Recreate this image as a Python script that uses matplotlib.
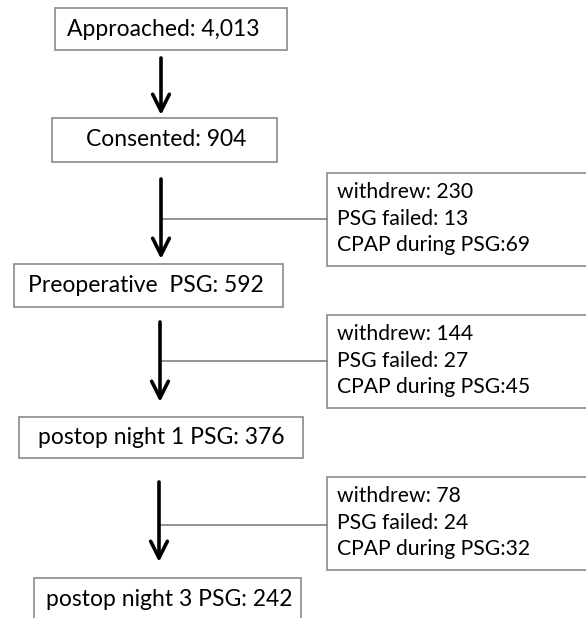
import matplotlib.pyplot as plt
from matplotlib.patches import Rectangle

# flow numbers
stages = ["Approached", "Consented", "Preoperative  PSG", "postop night 1 PSG", "postop night 3 PSG"]
counts = [4013, 904, 592, 376, 242]
withdrew = [230, 144, 78]
psg_failed = [13, 27, 24]
cpap = [69, 45, 32]

W, H = 586, 618
fig = plt.figure(figsize=(W / 100, H / 100), dpi=100)
ax = fig.add_axes([0, 0, 1, 1])
ax.set_xlim(0, W)
ax.set_ylim(H, 0)
ax.axis('off')

plt.rcParams['font.family'] = ['Lato', 'DejaVu Sans']

EDGE = '#8a8a8a'

# main boxes in pixel coords: x0, y0, x1, y1, text left, text y
main_boxes = [
    (55, 8, 287, 50, 67, 29),
    (52, 118, 277, 162, 86, 140),
    (14, 264, 283, 307, 28, 285),
    (19, 417, 303, 458, 38, 437),
    (34, 578, 301, 640, 46, 599),
]
# arrows: x, y top, y tip
arrows = [(161, 58, 115), (161, 179, 259), (160, 322, 402), (159, 482, 562)]
# side boxes: y top, y bottom, branch line y
side_boxes = [(173, 266, 219), (315, 408, 361), (477, 570, 525)]
SIDE_X0 = 327
line_off = [19, 46, 72]

for (x0, y0, x1, y1, tx, ty), name, n in zip(main_boxes, stages, counts):
    ax.add_patch(Rectangle((x0, y0), x1 - x0, y1 - y0, facecolor='white',
                           edgecolor=EDGE, lw=1.2))
    ax.text(tx, ty, f"{name}: {n:,}", ha='left', va='center',
            fontsize=16.5, color='black')

for x, ya, yb in arrows:
    ax.annotate('', xy=(x, yb), xytext=(x, ya),
                arrowprops=dict(arrowstyle='->,head_length=0.6,head_width=0.3',
                                lw=2.6, color='black', mutation_scale=20,
                                shrinkA=0, shrinkB=0))

for i, (ya, yb, ly) in enumerate(side_boxes):
    ax.add_patch(Rectangle((SIDE_X0, ya), W + 10 - SIDE_X0, yb - ya, facecolor='white',
                           edgecolor=EDGE, lw=1.2))
    ax.plot([arrows[i + 1][0] + 2, SIDE_X0], [ly, ly], color=EDGE, lw=1.3)
    lines = [f"withdrew: {withdrew[i]}", f"PSG failed: {psg_failed[i]}",
             f"CPAP during PSG:{cpap[i]}"]
    for k, t in enumerate(lines):
        ax.text(337, ya + line_off[k], t, ha='left', va='center',
                fontsize=15.2, color='black')

fig.savefig('out.png', dpi=100)
